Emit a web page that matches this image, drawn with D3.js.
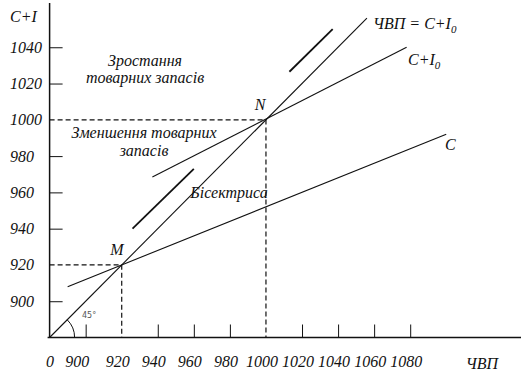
<!DOCTYPE html>
<html>
<head>
<meta charset="utf-8">
<script src="https://cdn.jsdelivr.net/npm/d3@7"></script>
<style>
  body { margin: 0; background: #fff; }
</style>
</head>
<body>
<div id="chart"></div>
<script>
// Tick values on both axes
const xTicks = [900, 920, 940, 960, 980, 1000, 1020, 1040, 1060, 1080];
const yTicks = [900, 920, 940, 960, 980, 1000, 1020, 1040];

// Lines as [ЧВП, C+I] end points
const bisector = [[880, 880], [1056, 1056]];
const consumption = [[890, 908], [1100, 992]];
const aggregate = [[937, 968.5], [1078, 1040]];
const shiftLow = [[926, 940], [960, 973]];
const shiftHigh = [[1013, 1026.5], [1037, 1050]];

// Equilibrium points
const equilibria = [{ name: "M", v: 920 }, { name: "N", v: 1000 }];

const serif = "'Liberation Serif', 'DejaVu Serif', serif";
const width = 521, height = 377;
const svg = d3.select("#chart").append("svg")
  .attr("width", width).attr("height", height);

const x = d3.scaleLinear().domain([880, 1100]).range([49.6, 49.6 + 220 * 1.803]);
const y = d3.scaleLinear().domain([880, 1100]).range([337.5, 337.5 - 220 * 1.814]);

const x0 = x(880), y0 = y(880);
const line = d3.line().x(d => x(d[0])).y(d => y(d[1]));

function label(px, py, str, anchor, size) {
  return svg.append("text")
    .attr("x", px).attr("y", py)
    .attr("text-anchor", anchor || "start")
    .attr("font-family", serif).attr("font-style", "italic")
    .attr("font-size", size || 16).attr("fill", "#111")
    .text(str);
}

// Dashed guides to equilibrium points
equilibria.forEach(p => {
  svg.append("path")
    .attr("d", `M${x0},${y(p.v)}H${x(p.v)}V${y0}`)
    .attr("fill", "none").attr("stroke", "#111")
    .attr("stroke-width", 1.2).attr("stroke-dasharray", "5,3");
});

// Tick marks (not at the dashed guides)
svg.append("g")
  .attr("transform", `translate(${x0},0)`)
  .call(d3.axisRight(y).tickValues(yTicks.filter(v => v !== 920 && v !== 1000)).tickSize(13).tickFormat(""))
  .call(g => g.select(".domain").remove())
  .selectAll("line").attr("stroke", "#111");

svg.append("g")
  .attr("transform", `translate(0,${y0})`)
  .call(d3.axisTop(x).tickValues(xTicks.filter(v => v !== 920 && v !== 1000)).tickSize(13).tickFormat(""))
  .call(g => g.select(".domain").remove())
  .selectAll("line").attr("stroke", "#111");

// Axis lines
svg.append("line").attr("x1", x0).attr("x2", x0).attr("y1", y0).attr("y2", 3)
  .attr("stroke", "#111").attr("stroke-width", 1.5);
svg.append("line").attr("x1", x0 - 2).attr("x2", width).attr("y1", y0).attr("y2", y0)
  .attr("stroke", "#111").attr("stroke-width", 1.5);

// Tick labels
yTicks.forEach(d => label(10, y(d) + 5.5, d));
xTicks.forEach(d => label(x(d) - (d === 900 ? 8.5 : 4), 367, d, "middle"));
label(50, 367, "0", "middle");
label(482, 369, "ЧВП", "middle");
label(10, 22, "C+I");

// Main lines
[bisector, consumption, aggregate].forEach(d => {
  svg.append("path").attr("d", line(d))
    .attr("fill", "none").attr("stroke", "#111").attr("stroke-width", 1.1);
});
[shiftLow, shiftHigh].forEach(d => {
  svg.append("path").attr("d", line(d))
    .attr("fill", "none").attr("stroke", "#111").attr("stroke-width", 1.8);
});

// 45° arc
const r = 25;
svg.append("path")
  .attr("d", `M${x0 + r * Math.cos(Math.PI / 4)},${y0 - r * Math.sin(Math.PI / 4)} A${r},${r} 0 0 1 ${x0 + r},${y0}`)
  .attr("fill", "none").attr("stroke", "#111").attr("stroke-width", 1);
svg.append("text").attr("x", 82).attr("y", 318)
  .attr("font-family", "'DejaVu Sans', sans-serif")
  .attr("fill", "#555").attr("font-size", 8).text("45°");

// Point labels
label(117, 255, "M", "middle");
label(260, 110, "N", "middle");

// Region labels
label(145, 66, "Зростання", "middle");
label(145, 83, "товарних запасів", "middle");
label(144, 138, "Зменшення товарних", "middle");
label(144, 156, "запасів", "middle");
label(229, 198, "Бісектриса", "middle");

// Line labels
const t1 = label(373, 29, "");
t1.append("tspan").text("ЧВП = C+I");
t1.append("tspan").attr("font-size", 11).attr("dy", 4).text("0");
const t2 = label(408, 65, "");
t2.append("tspan").text("C+I");
t2.append("tspan").attr("font-size", 11).attr("dy", 4).text("0");
label(445, 150, "C");
</script>
</body>
</html>
